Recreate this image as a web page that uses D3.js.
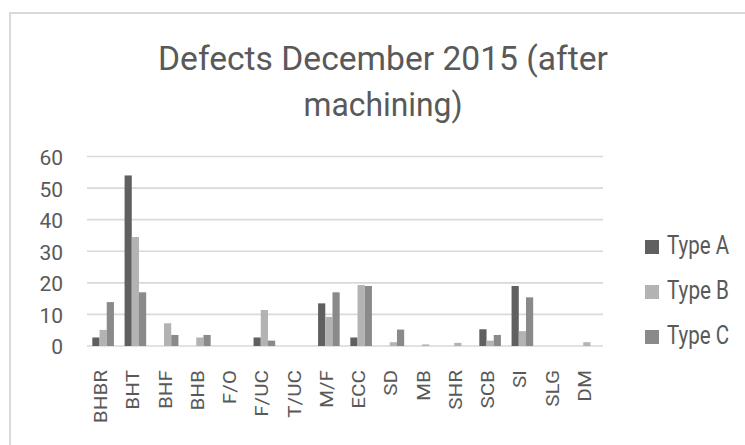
<!DOCTYPE html>
<html><head><meta charset="utf-8">
<script src="https://cdn.jsdelivr.net/npm/d3@7"></script>
<style>html,body{margin:0;padding:0;background:#fff;}svg{display:block;font-family:Roboto,"Liberation Sans",sans-serif;}</style>
</head><body>
<script>
const categories = ["BHBR","BHT","BHF","BHB","F/O","F/UC","T/UC","M/F","ECC","SD","MB","SHR","SCB","SI","SLG","DM"];
const typeA = [2.7,54,0,0,0,2.7,0,13.5,2.7,0,0,0,5.3,19,0,0];
const typeB = [5.1,34.5,7.2,2.7,0,11.4,0,9.2,19.3,1.2,0.5,1,1.7,4.7,0,1.2];
const typeC = [13.9,17,3.5,3.5,0,1.7,0,17,19,5.2,0,0,3.5,15.4,0,0];
const seriesNames = ["Type A","Type B","Type C"];
const seriesColors = ["#606060","#b3b3b3","#8a8a8a"];
const yTicks = [0,10,20,30,40,50,60];
const titleLines = ["Defects December 2015 (after","machining)"];

const W=745,H=445;
const svg=d3.select("body").append("svg").attr("width",W).attr("height",H);
svg.append("rect").attr("x",10).attr("y",13).attr("width",W).attr("height",H).attr("fill","#fff").attr("stroke","#d9d9d9").attr("stroke-width",2);

const x0=d3.scaleBand().domain(categories).range([87,603]).paddingInner(0.33).paddingOuter(0.165);
const x1=d3.scaleBand().domain(seriesNames).range([0,x0.bandwidth()]);
const y=d3.scaleLinear().domain([0,60]).range([346,156.5]);

// gridlines
svg.append("g").selectAll("line").data(yTicks).join("line")
 .attr("x1",87).attr("x2",603).attr("y1",d=>y(d)).attr("y2",d=>y(d))
 .attr("stroke","#d9d9d9").attr("stroke-width",1.6);

// y axis labels
const yAxis=d3.axisLeft(y).tickValues(yTicks).tickSize(0).tickPadding(0);
const ga=svg.append("g").attr("transform","translate(63,0)").call(yAxis);
ga.select(".domain").remove();
ga.selectAll("text").attr("font-size",21).attr("fill","#595959").attr("font-family","Roboto").attr("dy","0.38em");

const data=[typeA,typeB,typeC];
const groups=svg.append("g").selectAll("g").data(categories).join("g").attr("transform",d=>`translate(${x0(d)},0)`);
groups.selectAll("rect").data((c,i)=>seriesNames.map((s,j)=>({s,v:data[j][i],j})).filter(d=>d.v>0)).join("rect")
 .attr("x",d=>x1(d.s)).attr("width",x1.bandwidth())
 .attr("y",d=>y(d.v)).attr("height",d=>y(0)-y(d.v)).attr("fill",d=>seriesColors[d.j]);

// x axis labels
const stretch=1.15;
const xAxis=d3.axisBottom(x0).tickSize(0).tickPadding(0);
const gx=svg.append("g").attr("transform","translate(0,346)").call(xAxis);
gx.select(".domain").remove();
gx.selectAll("text").attr("font-size",18).attr("fill","#595959").attr("font-family","Roboto")
 .attr("transform",`rotate(-90) scale(${stretch},1)`).attr("text-anchor","end").attr("x",-24/stretch).attr("y",0).attr("dy","0.22em");

// title
const titleLen=[450,159];
svg.append("g").selectAll("text").data(titleLines).join("text")
 .attr("x",383).attr("y",(d,i)=>69.5+i*46).attr("text-anchor","middle")
 .attr("font-size",34).attr("fill","#595959")
 .attr("textLength",(d,i)=>titleLen[i]).attr("lengthAdjust","spacingAndGlyphs").text(d=>d);

// legend
const lg=svg.append("g").selectAll("g").data(seriesNames).join("g").attr("transform",(d,i)=>`translate(645,${247+i*45})`);
lg.append("rect").attr("x",0).attr("y",-7).attr("width",14).attr("height",14).attr("fill",(d,i)=>seriesColors[i]);
lg.append("text").attr("x",22).attr("y",6.5).attr("font-size",26).attr("fill","#595959")
 .attr("textLength",62).attr("lengthAdjust","spacingAndGlyphs").text(d=>d);
</script>
</body></html>
